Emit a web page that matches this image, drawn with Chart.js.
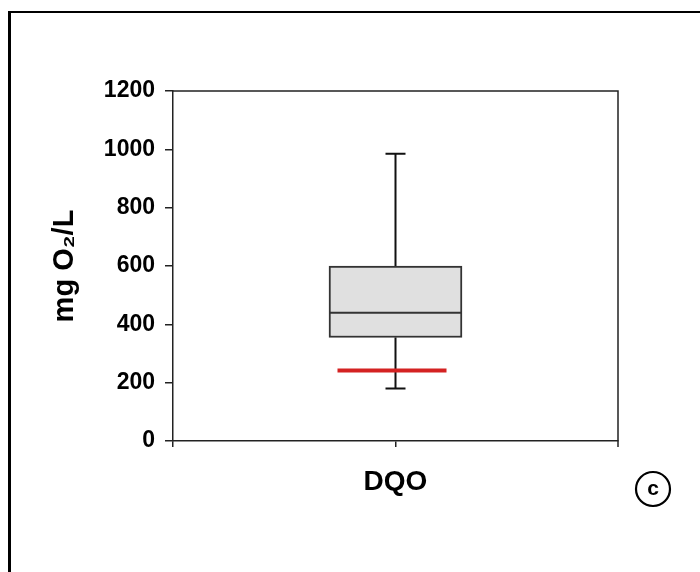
<!DOCTYPE html>
<html>
<head>
<meta charset="utf-8">
<script src="https://cdn.jsdelivr.net/npm/chart.js@4"></script>
<style>
	html, body { margin: 0; padding: 0; background: #fff; }
	canvas { display: block; }
</style>
</head>
<body>
<canvas id="grafico" width="700" height="572"></canvas>
<script>
/* dados */
const categorias = ["DQO"];
const minimo = [180];
const q1 = [355];
const mediana = [440];
const q3 = [600];
const maximo = [985];
const limite = [242]; // linha vermelha
const yTicks = [0, 200, 400, 600, 800, 1000, 1200];

const fonte = "'Liberation Sans', Arial, sans-serif";

const moldura = {
	id: "moldura",
	beforeDraw(chart) {
		const ctx = chart.ctx;
		ctx.save();
		ctx.fillStyle = "#fff";
		ctx.fillRect(0, 0, chart.width, chart.height);
		ctx.strokeStyle = "#000";
		ctx.lineWidth = 3;
		ctx.beginPath();
		ctx.moveTo(9.5, 11);
		ctx.lineTo(9.5, chart.height);
		ctx.stroke();
		ctx.lineWidth = 2;
		ctx.beginPath();
		ctx.moveTo(8, 12);
		ctx.lineTo(chart.width, 12);
		ctx.stroke();
		ctx.restore();
	},
	afterDraw(chart) {
		const { ctx, chartArea: a } = chart;
		ctx.save();
		ctx.strokeStyle = "#222";
		ctx.lineWidth = 1.5;
		ctx.beginPath();
		ctx.moveTo(a.left, a.top);
		ctx.lineTo(a.right, a.top);
		ctx.lineTo(a.right, a.bottom);
		ctx.stroke();
		// tick no canto direito
		ctx.beginPath();
		ctx.moveTo(a.right, a.bottom);
		ctx.lineTo(a.right, a.bottom + 6);
		ctx.stroke();
		// (c)
		ctx.lineWidth = 2.2;
		ctx.strokeStyle = "#000";
		ctx.beginPath();
		ctx.arc(653, 489, 17, 0, Math.PI * 2);
		ctx.stroke();
		ctx.fillStyle = "#000";
		ctx.font = "bold 21px " + fonte;
		ctx.textAlign = "center";
		ctx.textBaseline = "middle";
		ctx.fillText("c", 653, 489);
		ctx.restore();
	},
};

const boxPlot = {
	id: "boxPlot",
	afterDatasetsDraw(chart) {
		const { ctx, scales: { x, y } } = chart;
		const barras = chart.getDatasetMeta(0).data;
		ctx.save();
		categorias.forEach((c, i) => {
			const cx = x.getPixelForValue(i + 1);
			const w = barras[i].width;
			ctx.strokeStyle = "#111";
			ctx.lineWidth = 2;
			ctx.beginPath();
			// bigodes
			ctx.moveTo(cx, y.getPixelForValue(q3[i]));
			ctx.lineTo(cx, y.getPixelForValue(maximo[i]));
			ctx.moveTo(cx, y.getPixelForValue(q1[i]));
			ctx.lineTo(cx, y.getPixelForValue(minimo[i]));
			ctx.moveTo(cx - 10, y.getPixelForValue(maximo[i]));
			ctx.lineTo(cx + 10, y.getPixelForValue(maximo[i]));
			ctx.moveTo(cx - 10, y.getPixelForValue(minimo[i]));
			ctx.lineTo(cx + 10, y.getPixelForValue(minimo[i]));
			ctx.stroke();
			// mediana
			ctx.strokeStyle = "#333";
			ctx.beginPath();
			ctx.moveTo(cx - w / 2, y.getPixelForValue(mediana[i]));
			ctx.lineTo(cx + w / 2, y.getPixelForValue(mediana[i]));
			ctx.stroke();
			// limite
			ctx.strokeStyle = "#d42222";
			ctx.lineWidth = 4;
			ctx.beginPath();
			ctx.moveTo(cx - 58, y.getPixelForValue(limite[i]));
			ctx.lineTo(cx + 51, y.getPixelForValue(limite[i]));
			ctx.stroke();
		});
		ctx.restore();
	},
};

new Chart(document.getElementById("grafico"), {
	type: "bar",
	data: {
		datasets: [
			{
				data: categorias.map((c, i) => ({ x: i + 1, y: [q1[i], q3[i]] })),
				backgroundColor: "#e0e0e0",
				borderColor: "#333",
				borderWidth: 2,
				borderSkipped: false,
				barThickness: 133,
			},
		],
	},
	options: {
		responsive: false,
		animation: false,
		events: [],
		layout: { padding: { left: 20, top: 91, right: 82, bottom: 31 } },
		plugins: { legend: { display: false }, tooltip: { enabled: false } },
		scales: {
			x: {
				type: "linear",
				min: 0,
				max: categorias.length + 1,
				offset: false,
				afterFit: (s) => { s.height = 100; },
				afterBuildTicks: (s) => {
					s.ticks = [0, ...categorias.map((c, i) => i + 1)].map((v) => ({ value: v }));
				},
				grid: { offset: false, drawOnChartArea: false, color: "#222", lineWidth: 1.5, tickLength: 6 },
				border: { color: "#222", width: 1.5 },
				ticks: {
					color: "#000",
					padding: 18,
					maxRotation: 0,
					font: { family: fonte, size: 28, weight: "bold" },
					callback: (v) => categorias[v - 1] ?? "",
				},
			},
			y: {
				min: 0,
				max: 1200,
				afterFit: (s) => { s.width = 153; },
				afterBuildTicks: (s) => { s.ticks = yTicks.map((v) => ({ value: v })); },
				grid: { drawOnChartArea: false, color: "#222", lineWidth: 1.5, tickLength: 8 },
				border: { color: "#222", width: 1.5 },
				ticks: {
					color: "#000",
					padding: 10,
					font: { family: fonte, size: 23, weight: "bold" },
					callback: (v) => String(v),
				},
				title: {
					display: true,
					text: "mg O₂/L",
					color: "#000",
					padding: { top: 28, bottom: 0 },
					font: { family: fonte, size: 29, weight: "bold" },
				},
			},
		},
	},
	plugins: [moldura, boxPlot],
});
</script>
</body>
</html>
